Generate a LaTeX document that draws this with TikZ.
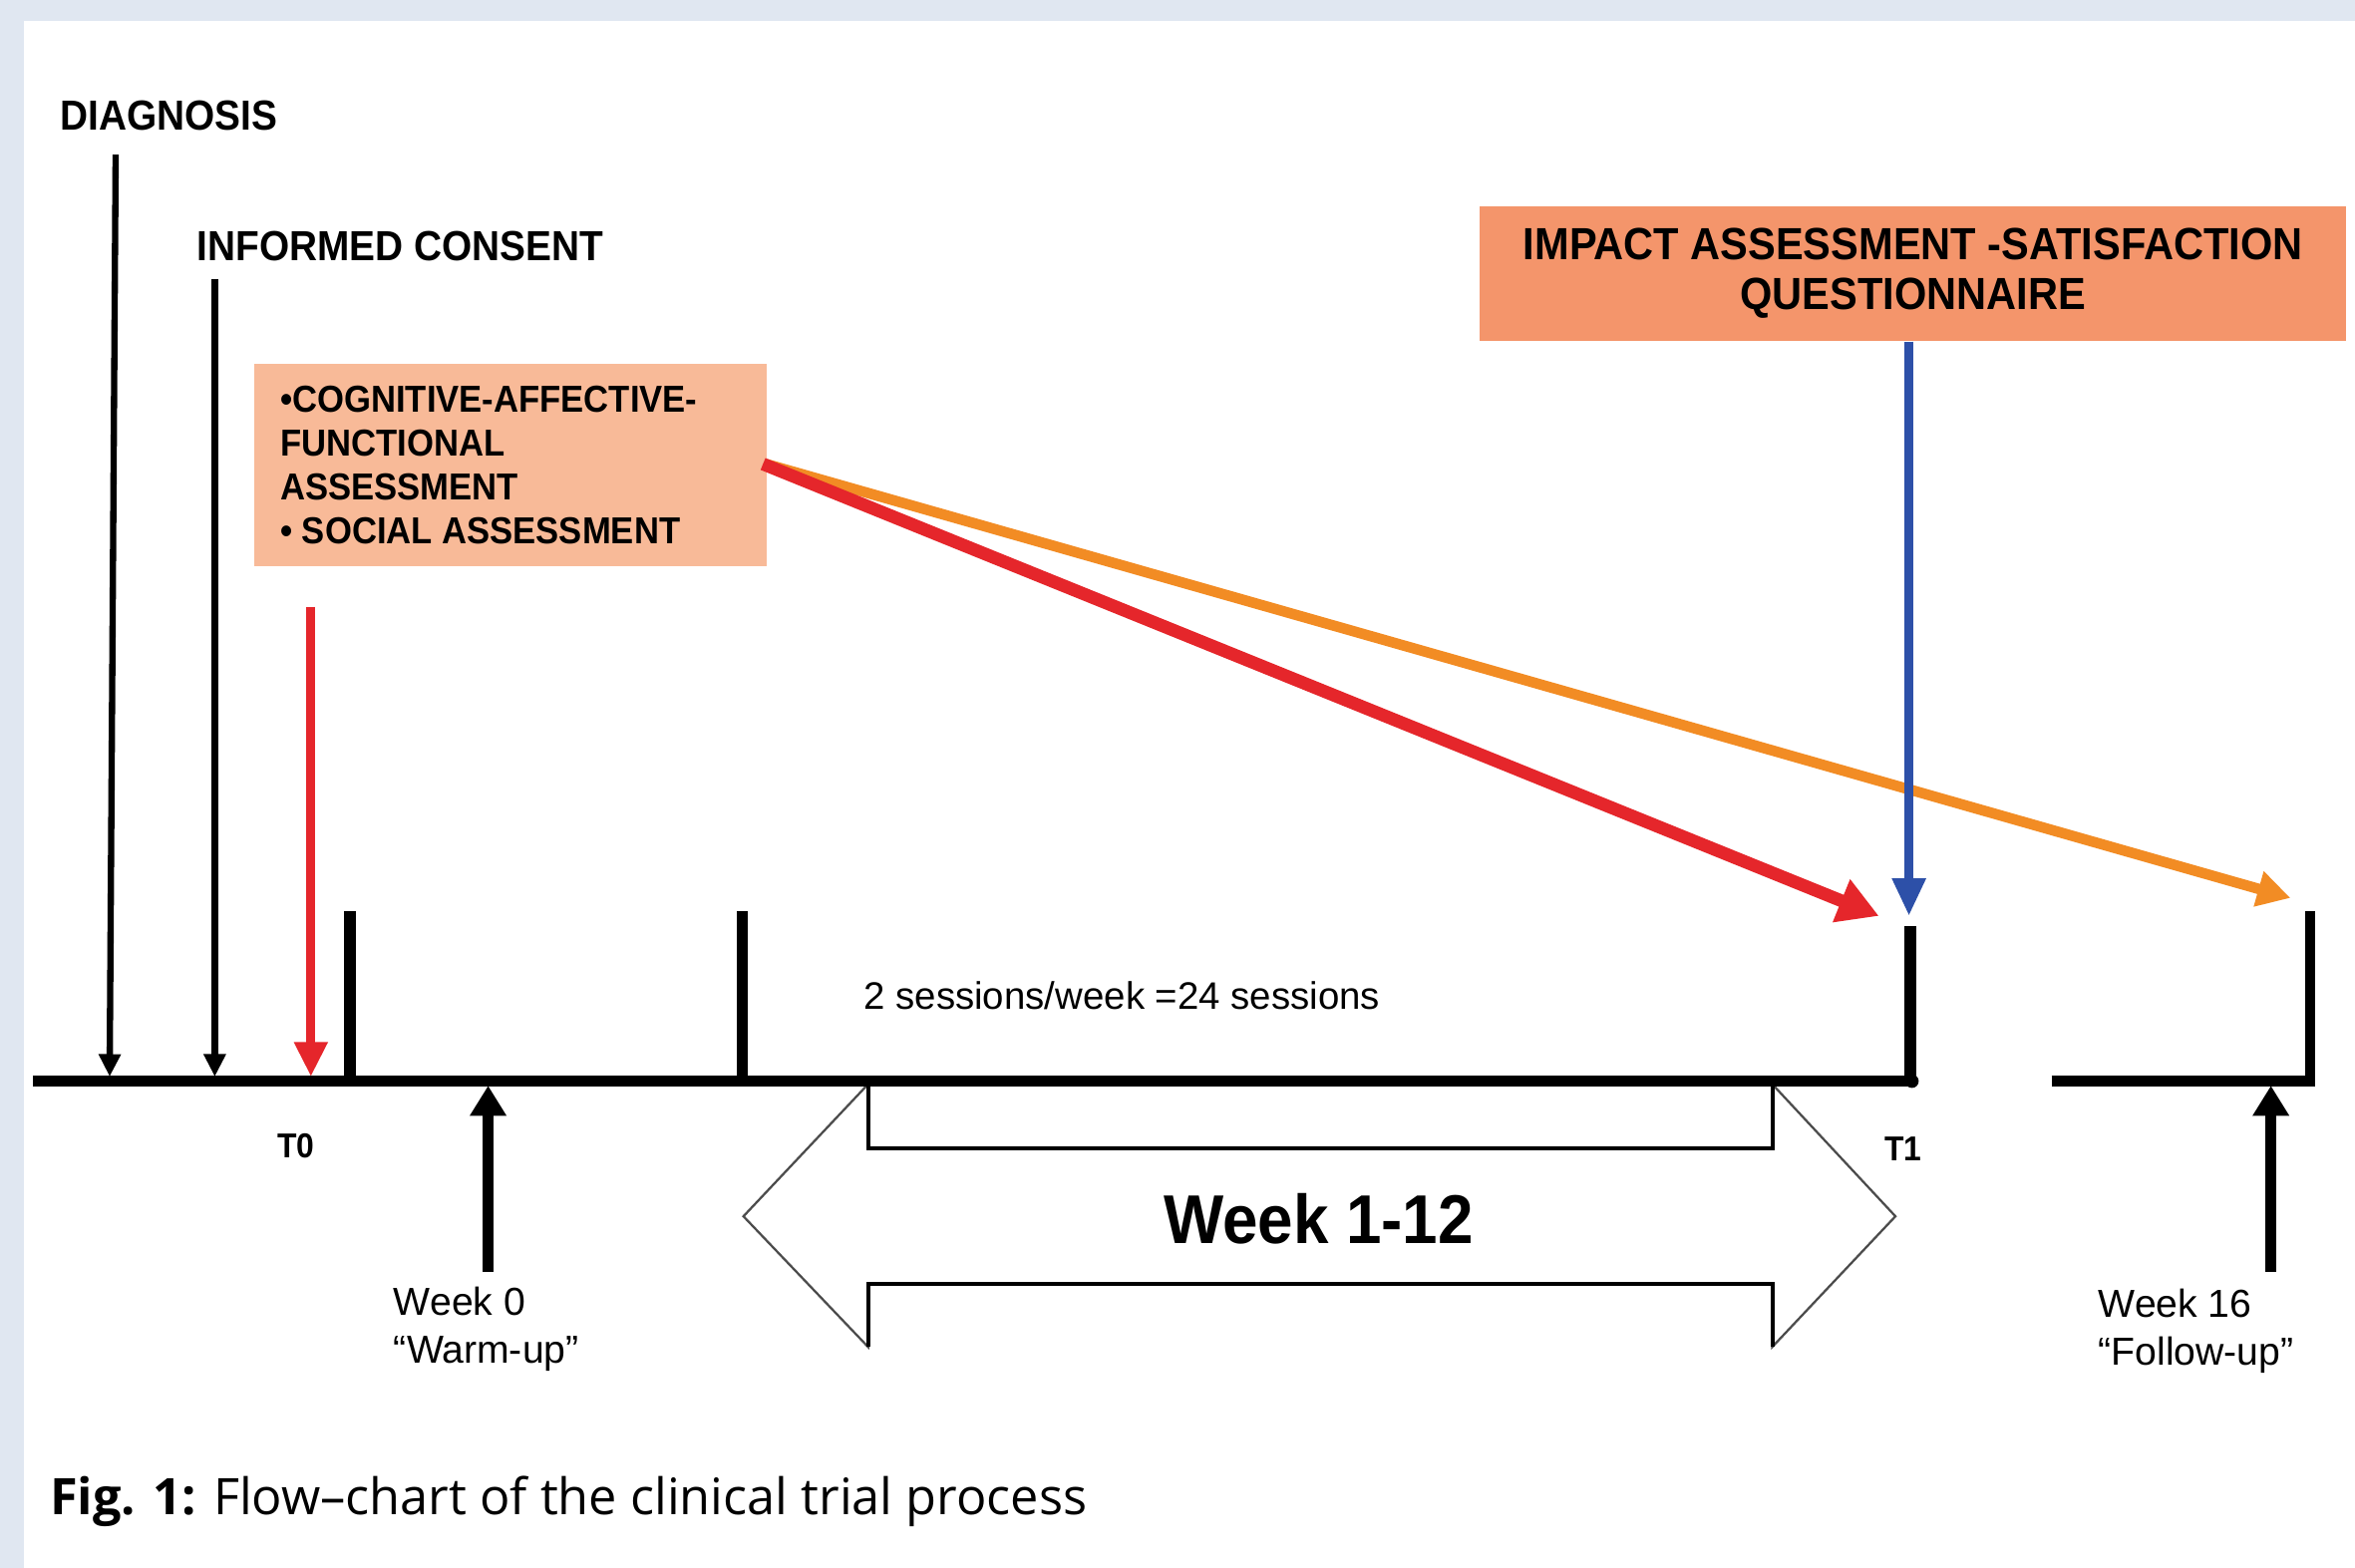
\documentclass[tikz,border=0pt]{standalone}
\usepackage{fontspec}
\setmainfont{Liberation Sans}
\newfontfamily\hb[FakeStretch=0.92]{Liberation Sans Bold}
\newfontfamily\capfont{Open Sans}
\usetikzlibrary{arrows.meta}

\definecolor{framebg}{HTML}{E0E7F1}
\definecolor{assessfill}{HTML}{F8BA98}
\definecolor{impactfill}{HTML}{F4956B}
\definecolor{redarrow}{HTML}{E5262B}
\definecolor{orangearrow}{HTML}{F28C24}
\definecolor{bluearrow}{HTML}{2D50A8}

\tikzset{
  lbl/.style={inner sep=0pt, anchor=west, font=\fontsize{28}{32}\selectfont\hb},
  smalllbl/.style={inner sep=0pt, font=\fontsize{23}{26}\selectfont\hb},
  plainlbl/.style={inner sep=0pt, anchor=west, align=left, font=\fontsize{26}{32}\selectfont},
  assessbox/.style={draw=none, fill=assessfill, anchor=north west, inner sep=0pt,
    minimum width=341pt, minimum height=135pt, align=left,
    font=\fontsize{25}{29}\selectfont\hb},
  impactbox/.style={draw=none, fill=impactfill, anchor=north west, inner sep=0pt,
    minimum width=577pt, minimum height=90pt, align=center,
    font=\fontsize{30}{33}\selectfont\hb},
  thinarrow/.style={line width=4.2pt, -{Triangle[length=15pt,width=14pt]}},
  redv/.style={line width=6pt, redarrow, -{Triangle[length=23pt,width=21pt]}},
  reddiag/.style={line width=8.5pt, redarrow, -{Triangle[length=27pt,width=29pt]}},
  orangediag/.style={line width=7pt, orangearrow, -{Triangle[length=22pt,width=23pt]}},
  bluev/.style={line width=6pt, bluearrow, -{Triangle[length=25pt,width=21pt]}},
  uparrow/.style={line width=7.5pt, -{Triangle[length=20pt,width=23pt]}},
  axisline/.style={line width=7pt},
  tick/.style={line width=7.5pt},
  bigarrow/.style={line width=1.5pt, draw=black!70, fill=white, line join=miter},
  shaftedge/.style={line width=2.6pt, black}
}

\begin{document}
\begin{tikzpicture}[x=1pt, y=-1pt]
  \useasboundingbox (0,0) rectangle (1568,1044);
  % page frame
  \fill[framebg] (0,0) rectangle (1568,1044);
  \fill[white] (16,14) rectangle (1568,1044);

  % labels of the early events
  \node[lbl] (diag) at (40,77) {DIAGNOSIS};
  \node[lbl] (consent) at (131,164) {INFORMED CONSENT};

  % assessment boxes
  \node[assessbox] (assess) at (169,242)
    {\hspace*{14pt}\parbox{320pt}{\raggedright
      \textbullet COGNITIVE-AFFECTIVE-\\FUNCTIONAL\\ASSESSMENT\\\textbullet{} SOCIAL ASSESSMENT}};
  \node[impactbox] (impact) at (985,137)
    {IMPACT ASSESSMENT -SATISFACTION\\QUESTIONNAIRE};

  % anchor points on and around the time line
  \coordinate (diagTop) at (77,103);
  \coordinate (diagEnd) at (73,717);
  \coordinate (consTop) at (143,186);
  \coordinate (consEnd) at (143,717);
  \coordinate (redTop) at (207,404);
  \coordinate (redEnd) at (207,717);
  \coordinate (axL) at (22,720);
  \coordinate (axR) at (1273,720);
  \coordinate (fuL) at (1366,720);
  \coordinate (fuC) at (1538,720);
  \coordinate (fuTop) at (1538,607);
  \coordinate (t0Top) at (233,607);
  \coordinate (t0Bot) at (233,720);
  \coordinate (wkTop) at (494,607);
  \coordinate (wkBot) at (494,720);
  \coordinate (t1Top) at (1272,617);
  \coordinate (t1Bot) at (1272,720);
  \coordinate (w0Foot) at (325,847);
  \coordinate (w0Head) at (325,723);
  \coordinate (w16Foot) at (1512,847);
  \coordinate (w16Head) at (1512,723);
  \coordinate (redDiagS) at (508,309);
  \coordinate (redDiagE) at (1251,610);
  \coordinate (orDiagS) at (510,309);
  \coordinate (orDiagE) at (1525,598);
  \coordinate (blueS) at (1271,229);
  \coordinate (blueE) at (1271,610);

  % double-headed block arrow for the training weeks
  \draw[bigarrow] (495,810) -- (578,722) -- (578,765) -- (1180,765) -- (1180,722)
    -- (1262,810) -- (1180,897) -- (1180,855) -- (578,855) -- (578,897) -- cycle;
  \draw[shaftedge] (578,722) -- (578,765) -- (1180,765) -- (1180,722);
  \draw[shaftedge] (578,897) -- (578,855) -- (1180,855) -- (1180,897);
  \node[inner sep=0pt, font=\fontsize{46}{50}\selectfont\hb] (weeks) at (878,812) {Week 1-12};

  % time line with ticks
  \draw[axisline] (axL) -- (axR);
  \fill (axR) circle (4.5pt);
  \draw[axisline, line join=miter] (fuL) -- (fuC) -- (fuTop);
  \draw[tick] (t0Bot) -- (t0Top);
  \draw[tick] (wkBot) -- (wkTop);
  \draw[tick] (t1Bot) -- (t1Top);

  % incoming arrows
  \draw[thinarrow] (diagTop) -- (diagEnd);
  \draw[thinarrow] (consTop) -- (consEnd);
  \draw[redv] (redTop) -- (redEnd);
  \draw[orangediag] (orDiagS) -- (orDiagE);
  \draw[reddiag] (redDiagS) -- (redDiagE);
  \draw[bluev] (impact.south -| blueS) -- (blueE);
  \draw[uparrow] (w0Foot) -- (w0Head);
  \draw[uparrow] (w16Foot) -- (w16Head);

  % time point labels
  \node[smalllbl] (t0) at (197,763) {T0};
  \node[smalllbl] (t1) at (1267,765) {T1};
  \node[plainlbl, font=\fontsize{25.5}{30}\selectfont] (sessions) at (575,663) {2 sessions/week =24 sessions};
  \node[plainlbl, anchor=north west] (week0) at (262,857) {Week 0\\``Warm-up''};
  \node[plainlbl, anchor=north west] (week16) at (1397,858) {Week 16\\``Follow-up''};

  % caption
  \node[inner sep=0pt, anchor=west, font=\fontsize{33.5}{38}\selectfont\capfont] (caption) at (33,1000)
    {\textbf{Fig. 1:} Flow\textendash chart of the clinical trial process};
\end{tikzpicture}
\end{document}
